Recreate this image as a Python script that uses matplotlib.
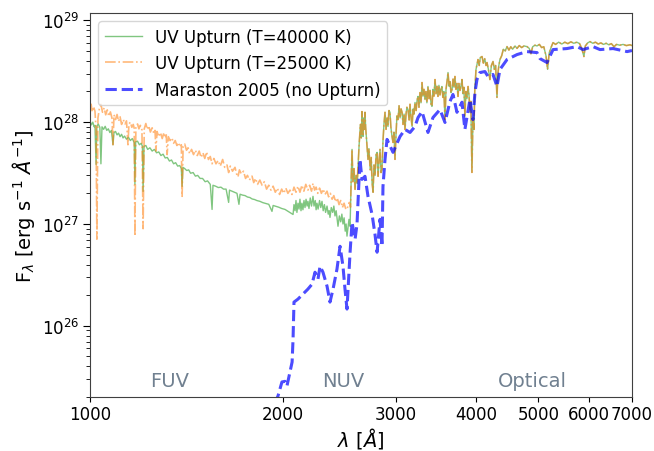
import matplotlib
matplotlib.use("Agg")
import matplotlib.pyplot as plt
import numpy as np
from matplotlib.ticker import FixedLocator, FixedFormatter, NullLocator

# fluxes in units of 1e27 erg/s/A, wavelengths in A
# hot component, T=40000 K (FUV/NUV part)
wave_40k = [1000, 1005, 1010, 1015, 1018, 1022, 1025, 1030, 1036, 1040, 1044, 1050,
            1056, 1062, 1068, 1074, 1080, 1086, 1090, 1096, 1102, 1108, 1114, 1120,
            1126, 1132, 1140, 1148, 1156, 1164, 1172, 1175, 1178, 1186, 1194, 1202,
            1207, 1210, 1214, 1222, 1230, 1240, 1250, 1260, 1270, 1280, 1290, 1300,
            1310, 1320, 1330, 1340, 1350, 1360, 1370, 1380, 1388, 1392, 1396, 1405,
            1415, 1425, 1435, 1448, 1460, 1472, 1485, 1498, 1512, 1525, 1540, 1550,
            1555, 1570, 1585, 1600, 1615, 1630, 1645, 1650, 1665, 1680, 1695, 1707,
            1714, 1730, 1745, 1760, 1775, 1790, 1805, 1820, 1840, 1860, 1880, 1900,
            1922, 1930, 1950, 1970, 1990, 2014, 2040, 2073,
            2080, 2088, 2095, 2102, 2110, 2118, 2125, 2133, 2140, 2148, 2156, 2164,
            2172, 2180, 2187, 2195, 2205, 2215, 2227, 2235, 2245, 2252, 2259, 2268,
            2280, 2290, 2300, 2310, 2320, 2330, 2342, 2352, 2360, 2367, 2378, 2390,
            2400, 2410, 2420, 2436, 2448, 2460, 2470, 2480, 2490, 2500, 2508, 2516,
            2526, 2534, 2544]
flux_40k = [10.2, 9.4, 10.0, 9.0, 9.3, 3.85, 9.1, 9.6, 8.9, 3.9, 9.0, 8.5,
            9.1, 8.3, 8.6, 7.9, 8.3, 6.0, 7.9, 8.1, 7.5, 7.8, 7.2, 7.6,
            7.0, 7.3, 6.8, 7.1, 6.6, 6.9, 6.3, 2.45, 6.4, 6.5, 6.0, 6.2,
            5.8, 2.09, 5.8, 5.9, 5.4, 5.6, 5.2, 5.4, 5.0, 5.1, 4.7, 4.85,
            4.45, 4.5, 4.15, 4.25, 3.9, 4.0, 3.7, 3.75, 3.5, 2.34, 3.6, 3.5,
            3.35, 3.4, 3.15, 3.2, 2.95, 3.0, 2.8, 2.8, 2.6, 2.65, 2.45, 1.39,
            2.4, 2.35, 2.28, 2.3, 2.2, 2.2, 1.63, 2.15, 2.1, 2.05, 2.0, 1.56,
            1.96, 1.92, 1.9, 1.84, 1.82, 1.76, 1.74, 1.7, 1.67, 1.62, 1.59, 1.56,
            1.33, 1.52, 1.49, 1.46, 1.42, 1.39, 1.32, 1.24,
            1.55, 1.35, 1.7, 1.3, 1.6, 1.4, 1.75, 1.35, 1.6, 1.38, 1.7, 1.45,
            1.75, 1.5, 1.67, 1.42, 1.8, 1.5, 1.87, 1.5, 1.7, 1.38, 1.6, 1.4,
            1.7, 1.45, 1.67, 1.35, 1.55, 1.3, 1.5, 1.25, 1.35, 1.16, 1.45, 1.3,
            1.5, 1.2, 1.35, 0.95, 1.2, 1.05, 1.25, 1.0, 1.15, 0.85, 1.0, 0.76,
            0.95, 1.11, 0.95]

# hot component, T=25000 K
wave_25k = [1000, 1004, 1008, 1013, 1018, 1022, 1025, 1029, 1034, 1040, 1046, 1052,
            1058, 1064, 1070, 1076, 1082, 1086, 1090, 1096, 1102, 1108, 1114, 1120,
            1127, 1134, 1140, 1146, 1150, 1156, 1162, 1168, 1172, 1175, 1179, 1186,
            1192, 1198, 1205, 1210, 1215, 1222, 1228, 1235, 1242, 1250, 1258, 1263,
            1267, 1272, 1280, 1288, 1296, 1304, 1310, 1315, 1319, 1325, 1333, 1342,
            1350, 1358, 1366, 1374, 1382, 1388, 1392, 1397, 1405, 1414, 1422, 1430,
            1440, 1450, 1460, 1470, 1480, 1490, 1500, 1510, 1520, 1530, 1540, 1550,
            1560, 1572, 1584, 1596, 1610, 1622, 1635, 1645, 1655, 1668, 1683, 1695,
            1701, 1710, 1722, 1735, 1748, 1760, 1772, 1789, 1800, 1812, 1825, 1840,
            1855, 1870, 1885, 1900, 1915, 1930, 1945, 1960, 1975, 1990, 2005, 2020,
            2035, 2050, 2065, 2080, 2095, 2110, 2125, 2140, 2155, 2170, 2187, 2200,
            2215, 2227, 2240, 2252, 2265, 2280, 2295, 2310, 2325, 2342, 2355, 2370,
            2385, 2400, 2415, 2430, 2445, 2460, 2475, 2490, 2505, 2516, 2528, 2538,
            2548]
flux_25k = [13.9, 15.0, 12.6, 14.2, 12.8, 8.5, 0.71, 11.0, 13.5, 15.0, 12.5, 13.8,
            11.8, 13.2, 11.4, 12.6, 11.0, 6.0, 11.8, 10.6, 11.9, 10.2, 11.3, 9.5,
            10.6, 9.6, 10.3, 6.0, 9.6, 10.0, 8.9, 9.5, 8.7, 0.76, 8.8, 9.6,
            8.6, 9.3, 8.4, 0.90, 8.6, 9.7, 8.5, 9.2, 8.0, 8.8, 7.7, 8.3,
            5.2, 8.1, 7.2, 7.9, 6.9, 7.9, 7.0, 7.5, 4.8, 7.2, 6.6, 7.0,
            6.2, 6.6, 5.9, 6.3, 5.7, 6.0, 1.87, 5.8, 6.1, 5.3, 5.6, 4.9,
            5.4, 4.8, 5.3, 4.7, 5.2, 4.5, 5.0, 4.4, 5.1, 4.3, 4.6, 3.9,
            4.4, 3.9, 4.2, 3.7, 4.3, 3.6, 3.8, 3.2, 3.7, 3.3, 3.6, 3.0,
            2.9, 3.4, 3.1, 3.3, 2.8, 3.0, 2.7, 2.95, 2.55, 2.8, 2.45, 2.7,
            2.4, 2.6, 2.2, 2.4, 2.15, 2.35, 2.05, 2.25, 1.95, 2.2, 2.0, 2.25,
            2.0, 2.15, 1.95, 2.3, 2.05, 2.35, 2.05, 2.4, 2.1, 2.45, 2.15, 2.4,
            2.1, 2.5, 2.15, 2.3, 2.0, 2.25, 2.0, 2.2, 1.95, 2.1, 1.85, 2.0,
            1.75, 1.9, 1.65, 1.8, 1.55, 1.7, 1.45, 1.6, 1.4, 1.39, 1.55, 1.63,
            1.46]

# old-population dominated part, common to both upturn models
wave_cool = [2555, 2562, 2570, 2580, 2590, 2600, 2610, 2618, 2628, 2640, 2648, 2655,
             2660, 2665, 2672, 2678, 2684, 2690, 2700, 2713, 2722, 2735, 2745, 2753,
             2763, 2772, 2783, 2793, 2803, 2813, 2823, 2833, 2843, 2853, 2863, 2873,
             2884, 2895, 2905, 2915, 2925, 2936, 2945, 2955, 2968, 2978, 2989, 3000,
             3010, 3022, 3033, 3044, 3055, 3066, 3077, 3088, 3099, 3110, 3120, 3132,
             3145, 3155, 3165, 3178, 3190, 3200, 3212, 3225, 3236, 3247, 3258, 3270,
             3282, 3294, 3305, 3317, 3329, 3340, 3352, 3365, 3378, 3390, 3402, 3414,
             3426, 3438, 3451, 3464, 3476, 3488, 3500, 3513, 3525, 3538, 3550, 3563,
             3577, 3590, 3603, 3616, 3630, 3642, 3655, 3669, 3682, 3695, 3707, 3720,
             3734, 3748, 3760, 3775, 3790, 3802, 3815, 3828, 3842, 3855, 3870, 3886,
             3900, 3912, 3925, 3940, 3955, 3969, 3980, 3990, 3998, 4010, 4027, 4045,
             4060, 4086, 4105, 4125, 4145, 4159, 4180, 4203, 4225, 4250, 4270, 4290,
             4311, 4325, 4340, 4357, 4385, 4410, 4440, 4469, 4500, 4530, 4560, 4600,
             4633, 4670, 4710, 4750, 4801, 4840, 4870, 4900, 4940, 4977, 5020, 5060,
             5100, 5140, 5170, 5200, 5240, 5272, 5320, 5380, 5440, 5500, 5560, 5620,
             5680, 5743, 5800, 5850, 5890, 5920, 5970, 6021, 6080, 6140, 6200, 6260,
             6320, 6380, 6440, 6500, 6563, 6620, 6700, 6780, 6860, 6950, 7000]
flux_cool = [3.0, 5.4, 2.6, 3.5, 2.19, 3.0, 2.5, 3.68, 6.0, 9.5, 7.0, 12.7,
             8.0, 7.24, 11.0, 8.5, 12.5, 9.0, 6.5, 4.31, 5.5, 3.4, 4.5, 2.56,
             2.05, 3.8, 3.0, 4.8, 5.05, 2.94, 4.2, 5.4, 3.2, 3.44, 6.5, 9.5,
             12.5, 8.5, 11.0, 9.08, 13.0, 12.5, 9.0, 7.5, 6.32, 8.0, 4.31, 7.5,
             11.5, 10.6, 14.5, 11.0, 13.5, 12.5, 9.5, 12.0, 8.48, 12.0, 14.0, 13.3,
             10.5, 15.0, 11.5, 9.08, 13.5, 12.0, 15.6, 13.0, 16.5, 17.9, 14.0, 19.5,
             15.5, 24.5, 18.0, 21.0, 16.7, 20.0, 15.5, 22.4, 17.0, 20.5, 15.0, 14.3,
             21.0, 18.0, 26.2, 19.0, 22.5, 17.9, 23.0, 18.5, 21.0, 22.4, 17.5, 20.0,
             10.6, 21.0, 25.0, 30.7, 22.5, 25.0, 19.5, 20.9, 26.5, 22.0, 28.1, 21.0,
             24.0, 17.9, 24.0, 20.5, 23.0, 26.2, 19.0, 22.0, 11.4, 20.0, 17.0, 22.4,
             18.0, 12.5, 16.0, 3.21, 11.0, 8.48, 20.0, 26.0, 32.9, 36.0, 41.2, 36.0,
             43.0, 44.1, 38.0, 42.0, 36.0, 38.5, 33.0, 26.2, 36.0, 39.4, 33.0, 36.0,
             17.5, 30.0, 36.0, 41.2, 45.0, 52.0, 50.0, 55.2, 51.0, 55.0, 52.0, 56.0,
             53.0, 56.5, 54.0, 56.0, 55.2, 53.0, 47.0, 55.0, 57.0, 56.0, 58.0, 54.0,
             55.0, 45.0, 33.0, 48.0, 55.0, 60.4, 58.0, 61.0, 58.5, 61.0, 59.0, 61.5,
             59.5, 61.0, 59.0, 52.0, 44.1, 56.0, 60.0, 61.8, 59.5, 61.0, 58.5, 60.0,
             58.0, 59.5, 57.5, 59.0, 55.0, 58.0, 57.0, 58.0, 56.5, 57.5, 56.5]

# Maraston 2005, no upturn
wave_m05 = [1940, 1964, 1992, 2014, 2028, 2066, 2073, 2080, 2110, 2148, 2186, 2219,
            2243, 2267, 2284, 2308, 2342, 2367, 2393, 2427, 2454, 2480, 2498, 2516,
            2544, 2562, 2590, 2608, 2636, 2655, 2684, 2713, 2753, 2782, 2803, 2833,
            2853, 2863, 2884, 2905, 2968, 3044, 3099, 3155, 3212, 3247, 3294, 3365,
            3426, 3513, 3577, 3641, 3681, 3734, 3802, 3842, 3912, 3955, 3983, 4012,
            4055, 4128, 4174, 4250, 4311, 4357, 4469, 4633, 4801, 4977, 5030, 5159,
            5272, 5541, 5743, 5871, 6086, 6240, 6540, 6877, 7000]
flux_m05 = [0.017, 0.0205, 0.0281, 0.0285, 0.0256, 0.0441, 0.0741, 0.171, 0.183, 0.205,
            0.229, 0.256, 0.336, 0.287, 0.385, 0.336, 0.245, 0.171, 0.229, 0.36,
            0.604, 0.385, 0.229, 0.146, 0.528, 1.04, 0.708, 0.993, 4.31, 2.74,
            2.94, 1.87, 1.24, 0.792, 0.528, 1.11, 0.604, 2.34, 4.31, 6.77,
            5.05, 7.24, 8.48, 7.92, 9.08, 11.1, 12.7, 7.92, 11.1, 13.3,
            9.93, 15.9, 18.7, 12.5, 15.7, 8.48, 16.7, 10.6, 19.5, 26.2,
            30.7, 31.4, 28.1, 29.4, 22.4, 32.9, 41.2, 46.1, 49.3, 48.2,
            42.1, 38.5, 51.6, 52.8, 55.2, 51.6, 55.2, 51.6, 52.8, 49.3, 50.5]

band_names = ["FUV", "NUV", "Optical"]
band_wave = [1333, 2480, 4890]

x_ticks = [1000, 2000, 3000, 4000, 5000, 6000, 7000]

plt.rcParams["font.family"] = "DejaVu Sans"

fig = plt.figure(figsize=(6.54, 4.52), dpi=100)
ax = fig.add_axes([90 / 654, 1 - 398 / 452, 542 / 654, 384 / 452])

w40 = np.concatenate([wave_40k, wave_cool])
f40 = np.concatenate([flux_40k, flux_cool]) * 1e27
w25 = np.concatenate([wave_25k, wave_cool])
f25 = np.concatenate([flux_25k, flux_cool]) * 1e27

ax.plot(w40, f40, color="#2ca02c", alpha=0.6, lw=1.0, label="UV Upturn (T=40000 K)")
ax.plot(w25, f25, color="#ff7f0e", alpha=0.55, lw=1.2, ls="-.", label="UV Upturn (T=25000 K)")
ax.plot(wave_m05, np.array(flux_m05) * 1e27, color="blue", alpha=0.7, lw=2.2, ls="--",
        label="Maraston 2005 (no Upturn)")

ax.set_xscale("log")
ax.set_yscale("log")
ax.set_xlim(1000, 7000)
ax.set_ylim(2.0e25, 1.18e29)

ax.xaxis.set_major_locator(FixedLocator(x_ticks))
ax.xaxis.set_major_formatter(FixedFormatter([str(t) for t in x_ticks]))
ax.xaxis.set_minor_locator(NullLocator())
ax.tick_params(axis="x", which="major", labelsize=12, length=3.5, pad=2)
ax.tick_params(axis="y", which="major", labelsize=12, length=5, pad=2.5)
ax.tick_params(axis="y", which="minor", length=3)

for name, w in zip(band_names, band_wave):
    ax.text(w, 2.9e25, name, color="slategray", fontsize=14, ha="center", va="center")

ax.set_xlabel(r"$\lambda$ [$\AA$]", fontsize=14, labelpad=2)
ax.set_ylabel(r"F$_\lambda$ [erg s$^{-1}$ $\AA^{-1}$]", fontsize=14)

for spine in ax.spines.values():
    spine.set_color("0.25")

ax.legend(loc="upper left", fontsize=12, handlelength=2.2)

fig.savefig("out.png", dpi=100)
